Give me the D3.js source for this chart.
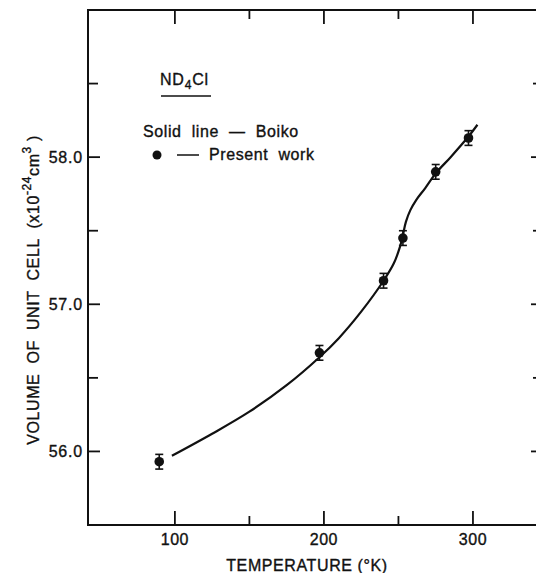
<!DOCTYPE html>
<html>
<head>
<meta charset="utf-8">
<script src="https://cdn.jsdelivr.net/npm/d3@7"></script>
<style>
  html, body { margin: 0; padding: 0; background: #fff; }
  svg text { font-family: "Liberation Sans", "DejaVu Sans", sans-serif; fill: #111; stroke: #111; stroke-width: 0.35px; white-space: pre; }
</style>
</head>
<body>
<svg id="chart" width="536" height="573"></svg>
<script>
// Boiko's smooth curve for ND4Cl (temperature in K, volume in 1e-24 cm^3)
const curveT = [98, 125, 150, 175, 197, 210, 225, 240, 247, 251, 253, 255, 258, 262, 268, 275, 285, 297, 303];
const curveV = [55.97, 56.12, 56.27, 56.45, 56.64, 56.77, 56.95, 57.16, 57.28, 57.39, 57.47, 57.56, 57.64, 57.71, 57.79, 57.89, 58.00, 58.14, 58.22];

// Present work measurements with error bars
const pointT = [89.5, 197, 240, 253, 275, 297];
const pointV = [55.93, 56.67, 57.16, 57.45, 57.90, 58.13];
const pointErr = [0.05, 0.05, 0.05, 0.05, 0.05, 0.05];

const xMajorTicks = [100, 200, 300];
const xMinorTicks = [150, 250];
const yMajorTicks = [56.0, 57.0, 58.0];
const yMinorTicks = [56.5, 57.5, 58.5];

const svg = d3.select("#chart");
const plotLeft = 88, plotRight = 543, plotTop = 10, plotBottom = 525;

const x = d3.scaleLinear().domain([41.7, 347]).range([plotLeft, plotRight]);
const y = d3.scaleLinear().domain([55.5, 59.0]).range([plotBottom, plotTop]);

const ink = "#111";
const majorLen = 14, minorLen = 9;

// frame
svg.append("rect")
  .attr("x", plotLeft).attr("y", plotTop)
  .attr("width", plotRight - plotLeft).attr("height", plotBottom - plotTop)
  .attr("fill", "none").attr("stroke", ink).attr("stroke-width", 2);

// ticks drawn inward on all four sides
const tickG = svg.append("g").attr("stroke", ink).attr("stroke-width", 1.8);
function xTicks(vals, len) {
  vals.forEach(v => {
    tickG.append("line").attr("x1", x(v)).attr("x2", x(v)).attr("y1", plotBottom).attr("y2", plotBottom - len);
    tickG.append("line").attr("x1", x(v)).attr("x2", x(v)).attr("y1", plotTop).attr("y2", plotTop + len);
  });
}
function yTicks(vals, len) {
  vals.forEach(v => {
    tickG.append("line").attr("x1", plotLeft).attr("x2", plotLeft + len).attr("y1", y(v)).attr("y2", y(v));
    tickG.append("line").attr("x1", plotRight).attr("x2", plotRight - len).attr("y1", y(v)).attr("y2", y(v));
  });
}
xTicks(xMajorTicks, majorLen);
xTicks(xMinorTicks, minorLen);
yTicks(yMajorTicks, 12);
yTicks(yMinorTicks, 10);

// tick labels
svg.append("g").selectAll("text").data(xMajorTicks).join("text")
  .attr("x", d => x(d)).attr("y", plotBottom + 20)
  .attr("text-anchor", "middle").attr("font-size", 16).attr("letter-spacing", 0.5)
  .text(d => d);
svg.append("g").selectAll("text").data(yMajorTicks).join("text")
  .attr("x", plotLeft - 5).attr("y", d => y(d) + 5.5)
  .attr("text-anchor", "end").attr("font-size", 16).attr("letter-spacing", 0.8)
  .text(d => d.toFixed(1));

// axis titles
svg.append("text")
  .attr("x", 307).attr("y", 571)
  .attr("text-anchor", "middle").attr("font-size", 16).attr("letter-spacing", 0.6)
  .text("TEMPERATURE (°K)");

const yTitle = svg.append("text")
  .attr("transform", "translate(39,290) rotate(-90)")
  .attr("text-anchor", "middle").attr("font-size", 16).attr("letter-spacing", 0.6);
yTitle.append("tspan").text("VOLUME  OF  UNIT  CELL  (x10");
yTitle.append("tspan").attr("dy", -8).attr("font-size", 12).text("-24");
yTitle.append("tspan").attr("dy", 8).text("cm");
yTitle.append("tspan").attr("dy", -8).attr("font-size", 12).text("3");
yTitle.append("tspan").attr("dy", 8).text(" )");

// Boiko curve
const line = d3.line()
  .x((d, i) => x(curveT[i]))
  .y((d, i) => y(curveV[i]))
  .curve(d3.curveCatmullRom.alpha(0.5));
svg.append("path")
  .datum(curveT)
  .attr("d", line)
  .attr("fill", "none").attr("stroke", ink).attr("stroke-width", 2.2);

// measured points with error bars
const pts = svg.append("g");
pointT.forEach((t, i) => {
  const cx = x(t), cy = y(pointV[i]);
  const y1 = y(pointV[i] + pointErr[i]), y2 = y(pointV[i] - pointErr[i]);
  pts.append("line").attr("x1", cx).attr("x2", cx).attr("y1", y1).attr("y2", y2)
    .attr("stroke", ink).attr("stroke-width", 1.6);
  [y1, y2].forEach(yy => pts.append("line")
    .attr("x1", cx - 4).attr("x2", cx + 4).attr("y1", yy).attr("y2", yy)
    .attr("stroke", ink).attr("stroke-width", 1.6));
  pts.append("circle").attr("cx", cx).attr("cy", cy).attr("r", 4.8).attr("fill", ink);
});

// legend
const lg = svg.append("g").attr("font-size", 16);
const title = lg.append("text").attr("x", 160).attr("y", 85).attr("letter-spacing", 0.8);
title.append("tspan").text("ND");
title.append("tspan").attr("dy", 4).attr("font-size", 12).text("4");
title.append("tspan").attr("dy", -4).text("Cl");
lg.append("line").attr("x1", 161).attr("x2", 211).attr("y1", 96).attr("y2", 96)
  .attr("stroke", ink).attr("stroke-width", 1.5);
lg.append("text").attr("x", 143).attr("y", 137).attr("letter-spacing", 0.6)
  .text("Solid  line  —  Boiko");
lg.append("circle").attr("cx", 157).attr("cy", 155).attr("r", 4.5).attr("fill", ink);
lg.append("line").attr("x1", 177).attr("x2", 199).attr("y1", 155).attr("y2", 155)
  .attr("stroke", ink).attr("stroke-width", 1.5);
lg.append("text").attr("x", 209).attr("y", 160).attr("letter-spacing", 0.6)
  .text("Present  work");
</script>
</body>
</html>
